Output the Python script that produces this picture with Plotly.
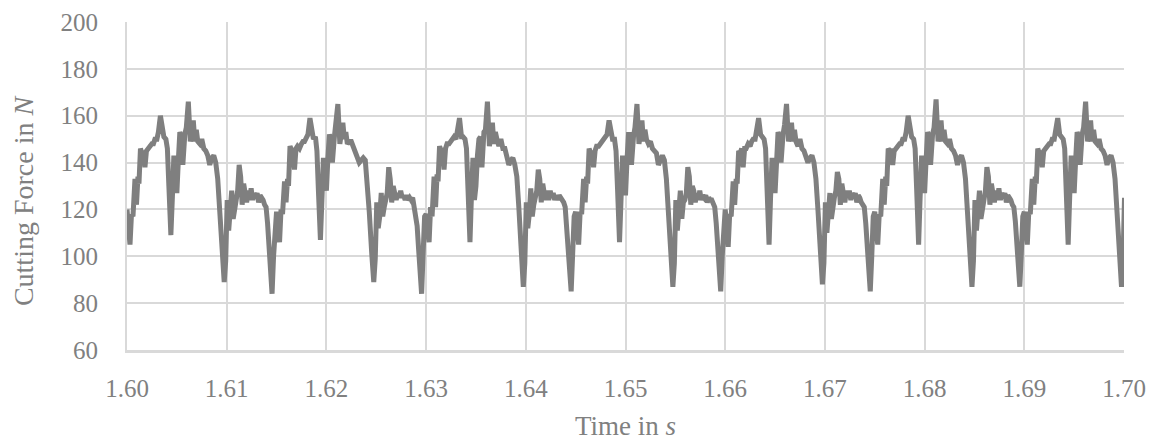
import plotly.graph_objects as go

# time offsets within one revolution (ms)
offsets_ms = [
    0.00, 0.15, 0.30, 0.45, 0.60, 0.80, 0.95, 1.10, 1.20, 1.35,
    1.50, 1.65, 1.80, 1.95, 2.10, 2.30, 2.50, 2.65, 2.80, 3.00,
    3.15, 3.35, 3.55, 3.70, 3.90, 4.05, 4.20, 4.40, 4.55, 4.70,
    4.85, 5.00, 5.15, 5.30, 5.45, 5.60, 5.80, 5.95, 6.15, 6.35,
    6.50, 6.65, 6.80, 6.95, 7.10, 7.30, 7.50, 7.70, 7.90, 8.10,
    8.30, 8.50, 8.70, 8.90, 9.10, 9.30, 9.55, 9.75, 9.90, 10.05,
    10.20, 10.35, 10.50, 10.65, 10.80, 10.95, 11.10, 11.25, 11.40, 11.55,
    11.70, 11.85, 12.00, 12.15, 12.30, 12.45, 12.60, 12.75, 12.90, 13.05,
    13.20, 13.35, 13.50, 13.65, 13.80, 13.95, 14.10, 14.25, 14.40, 14.55,
    14.70, 14.85,
]

cycle_starts_s = [1.600, 1.615, 1.630, 1.645, 1.660, 1.675, 1.690]

force_c1 = [
    120, 113, 105, 118, 117, 133, 122, 134, 131, 146,
    144, 145, 138, 145, 146, 147, 148, 148, 150, 150,
    153, 160, 152, 151, 150, 146, 130, 109, 125, 143,
    137, 127, 141, 153, 151, 139, 152, 155, 166, 149,
    152, 158, 149, 154, 149, 148, 150, 146, 145, 143,
    139, 142, 143, 140, 133, 120, 102, 89, 98, 124,
    111, 118, 128, 116, 122, 124, 128, 139, 134, 122,
    131, 128, 123, 128, 124, 129, 124, 127, 125, 127,
    123, 126, 125, 124, 122, 121, 114, 104, 92, 84,
    100, 116,
]
force_c2 = [
    119, 112, 106, 120, 118, 132, 123, 133, 130, 147,
    145, 144, 137, 146, 147, 146, 148, 149, 149, 151,
    152, 159, 151, 150, 151, 145, 128, 107, 124, 142,
    136, 128, 142, 152, 150, 140, 151, 156, 165, 148,
    153, 157, 150, 153, 148, 149, 149, 147, 144, 142,
    140, 141, 142, 141, 132, 119, 101, 89, 99, 123,
    112, 117, 127, 117, 121, 125, 127, 138, 133, 123,
    130, 127, 124, 127, 125, 128, 125, 126, 124, 126,
    124, 125, 124, 125, 121, 120, 113, 103, 91, 84,
    101, 117,
]
force_c3 = [
    118, 111, 106, 121, 117, 134, 121, 135, 132, 147,
    145, 146, 137, 146, 148, 148, 149, 150, 151, 150,
    153, 159, 151, 151, 150, 146, 129, 106, 126, 142,
    124, 130, 143, 150, 151, 138, 153, 154, 166, 147,
    151, 157, 148, 153, 150, 147, 150, 146, 146, 143,
    139, 141, 142, 139, 134, 121, 100, 87, 97, 123,
    112, 118, 129, 117, 122, 125, 128, 137, 133, 123,
    131, 127, 124, 128, 124, 128, 125, 127, 124, 126,
    124, 126, 125, 124, 123, 121, 113, 103, 93, 85,
    101, 117,
]
force_c4 = [
    119, 112, 105, 119, 118, 133, 123, 134, 131, 146,
    144, 145, 138, 145, 147, 147, 148, 149, 150, 151,
    152, 158, 151, 150, 150, 145, 129, 106, 124, 143,
    137, 126, 141, 152, 152, 139, 151, 155, 165, 148,
    152, 158, 149, 154, 150, 148, 149, 146, 145, 144,
    139, 141, 143, 141, 133, 119, 101, 87, 97, 124,
    111, 119, 128, 116, 123, 124, 127, 138, 134, 122,
    130, 128, 123, 127, 124, 128, 124, 126, 125, 126,
    123, 125, 124, 124, 122, 121, 114, 104, 92, 85,
    100, 116,
]
force_c5 = [
    120, 113, 104, 118, 117, 132, 122, 133, 131, 145,
    144, 146, 138, 146, 146, 148, 147, 149, 150, 150,
    153, 159, 152, 151, 150, 146, 128, 105, 125, 142,
    137, 127, 140, 153, 151, 140, 152, 156, 165, 149,
    152, 157, 149, 154, 149, 147, 150, 146, 145, 143,
    140, 142, 143, 140, 133, 120, 102, 88, 97, 123,
    110, 118, 127, 116, 122, 125, 128, 136, 133, 122,
    131, 128, 123, 128, 125, 128, 124, 127, 125, 127,
    123, 126, 125, 123, 122, 121, 114, 103, 92, 85,
    100, 117,
]
force_c6 = [
    119, 112, 105, 118, 117, 133, 122, 134, 130, 146,
    145, 145, 139, 145, 146, 147, 148, 148, 150, 150,
    153, 160, 152, 151, 150, 146, 129, 105, 125, 143,
    137, 127, 141, 153, 151, 139, 152, 155, 167, 149,
    152, 158, 149, 154, 149, 148, 150, 146, 145, 143,
    139, 142, 143, 140, 133, 120, 102, 87, 98, 124,
    111, 118, 128, 116, 122, 124, 128, 138, 134, 122,
    131, 128, 123, 128, 124, 129, 124, 127, 125, 127,
    123, 126, 125, 124, 122, 121, 115, 105, 94, 87,
    101, 117,
]
force_c7 = [
    119, 112, 105, 119, 118, 133, 122, 134, 131, 146,
    144, 145, 138, 145, 146, 147, 148, 148, 150, 150,
    153, 159, 152, 151, 150, 146, 129, 105, 125, 143,
    137, 127, 141, 153, 151, 139, 152, 155, 166, 149,
    152, 158, 149, 154, 149, 148, 150, 146, 145, 143,
    139, 142, 143, 140, 133, 120, 102, 87, 98, 125,
]

x_tick_vals = [1.60, 1.61, 1.62, 1.63, 1.64, 1.65, 1.66, 1.67, 1.68, 1.69, 1.70]
x_tick_text = ["1.60", "1.61", "1.62", "1.63", "1.64", "1.65", "1.66", "1.67", "1.68", "1.69", "1.70"]
y_tick_vals = [60, 80, 100, 120, 140, 160, 180, 200]

cycles = [force_c1, force_c2, force_c3, force_c4, force_c5, force_c6, force_c7]
time_s, force_n = [], []
for start, forces in zip(cycle_starts_s, cycles):
    for off, f in zip(offsets_ms, forces):
        time_s.append(start + off / 1000.0)
        force_n.append(f)

FONT = "Liberation Serif"
TXT = "#808080"
GRID = "#d9d9d9"

fig = go.Figure()
fig.add_trace(go.Scatter(
    x=time_s, y=force_n, mode="lines",
    line=dict(color="#7f7f7f", width=5),
    hoverinfo="skip", showlegend=False,
))

fig.update_layout(
    width=1155, height=445,
    margin=dict(l=127, r=31, t=22, b=95, autoexpand=False),
    paper_bgcolor="white", plot_bgcolor="white",
    font=dict(family=FONT, size=25, color=TXT),
    xaxis=dict(
        range=[1.60, 1.70], tickvals=x_tick_vals, ticktext=x_tick_text,
        showgrid=True, gridcolor=GRID, gridwidth=1.5,
        showline=True, linecolor=GRID, linewidth=2.5,
        ticks="", ticklabelstandoff=14, zeroline=False, automargin=False,
        tickfont=dict(family=FONT, size=25, color=TXT),
    ),
    yaxis=dict(
        range=[60, 200], tickvals=y_tick_vals,
        showgrid=True, gridcolor=GRID, gridwidth=1.5,
        showline=True, linecolor=GRID, linewidth=2,
        ticks="", ticklabelstandoff=22, zeroline=False, automargin=False,
        tickfont=dict(family=FONT, size=25, color=TXT),
    ),
    annotations=[
        dict(text="Time in <i>s</i>", xref="paper", yref="paper",
             x=0.5, y=-0.232, xanchor="center", yanchor="middle",
             showarrow=False, font=dict(family=FONT, size=27, color=TXT)),
        dict(text="Cutting Force in <i>N</i>", xref="paper", yref="paper",
             x=-0.1043, y=0.454, xanchor="center", yanchor="middle", textangle=-90,
             showarrow=False, font=dict(family=FONT, size=28, color=TXT)),
    ],
)

fig.write_html("out.html")
